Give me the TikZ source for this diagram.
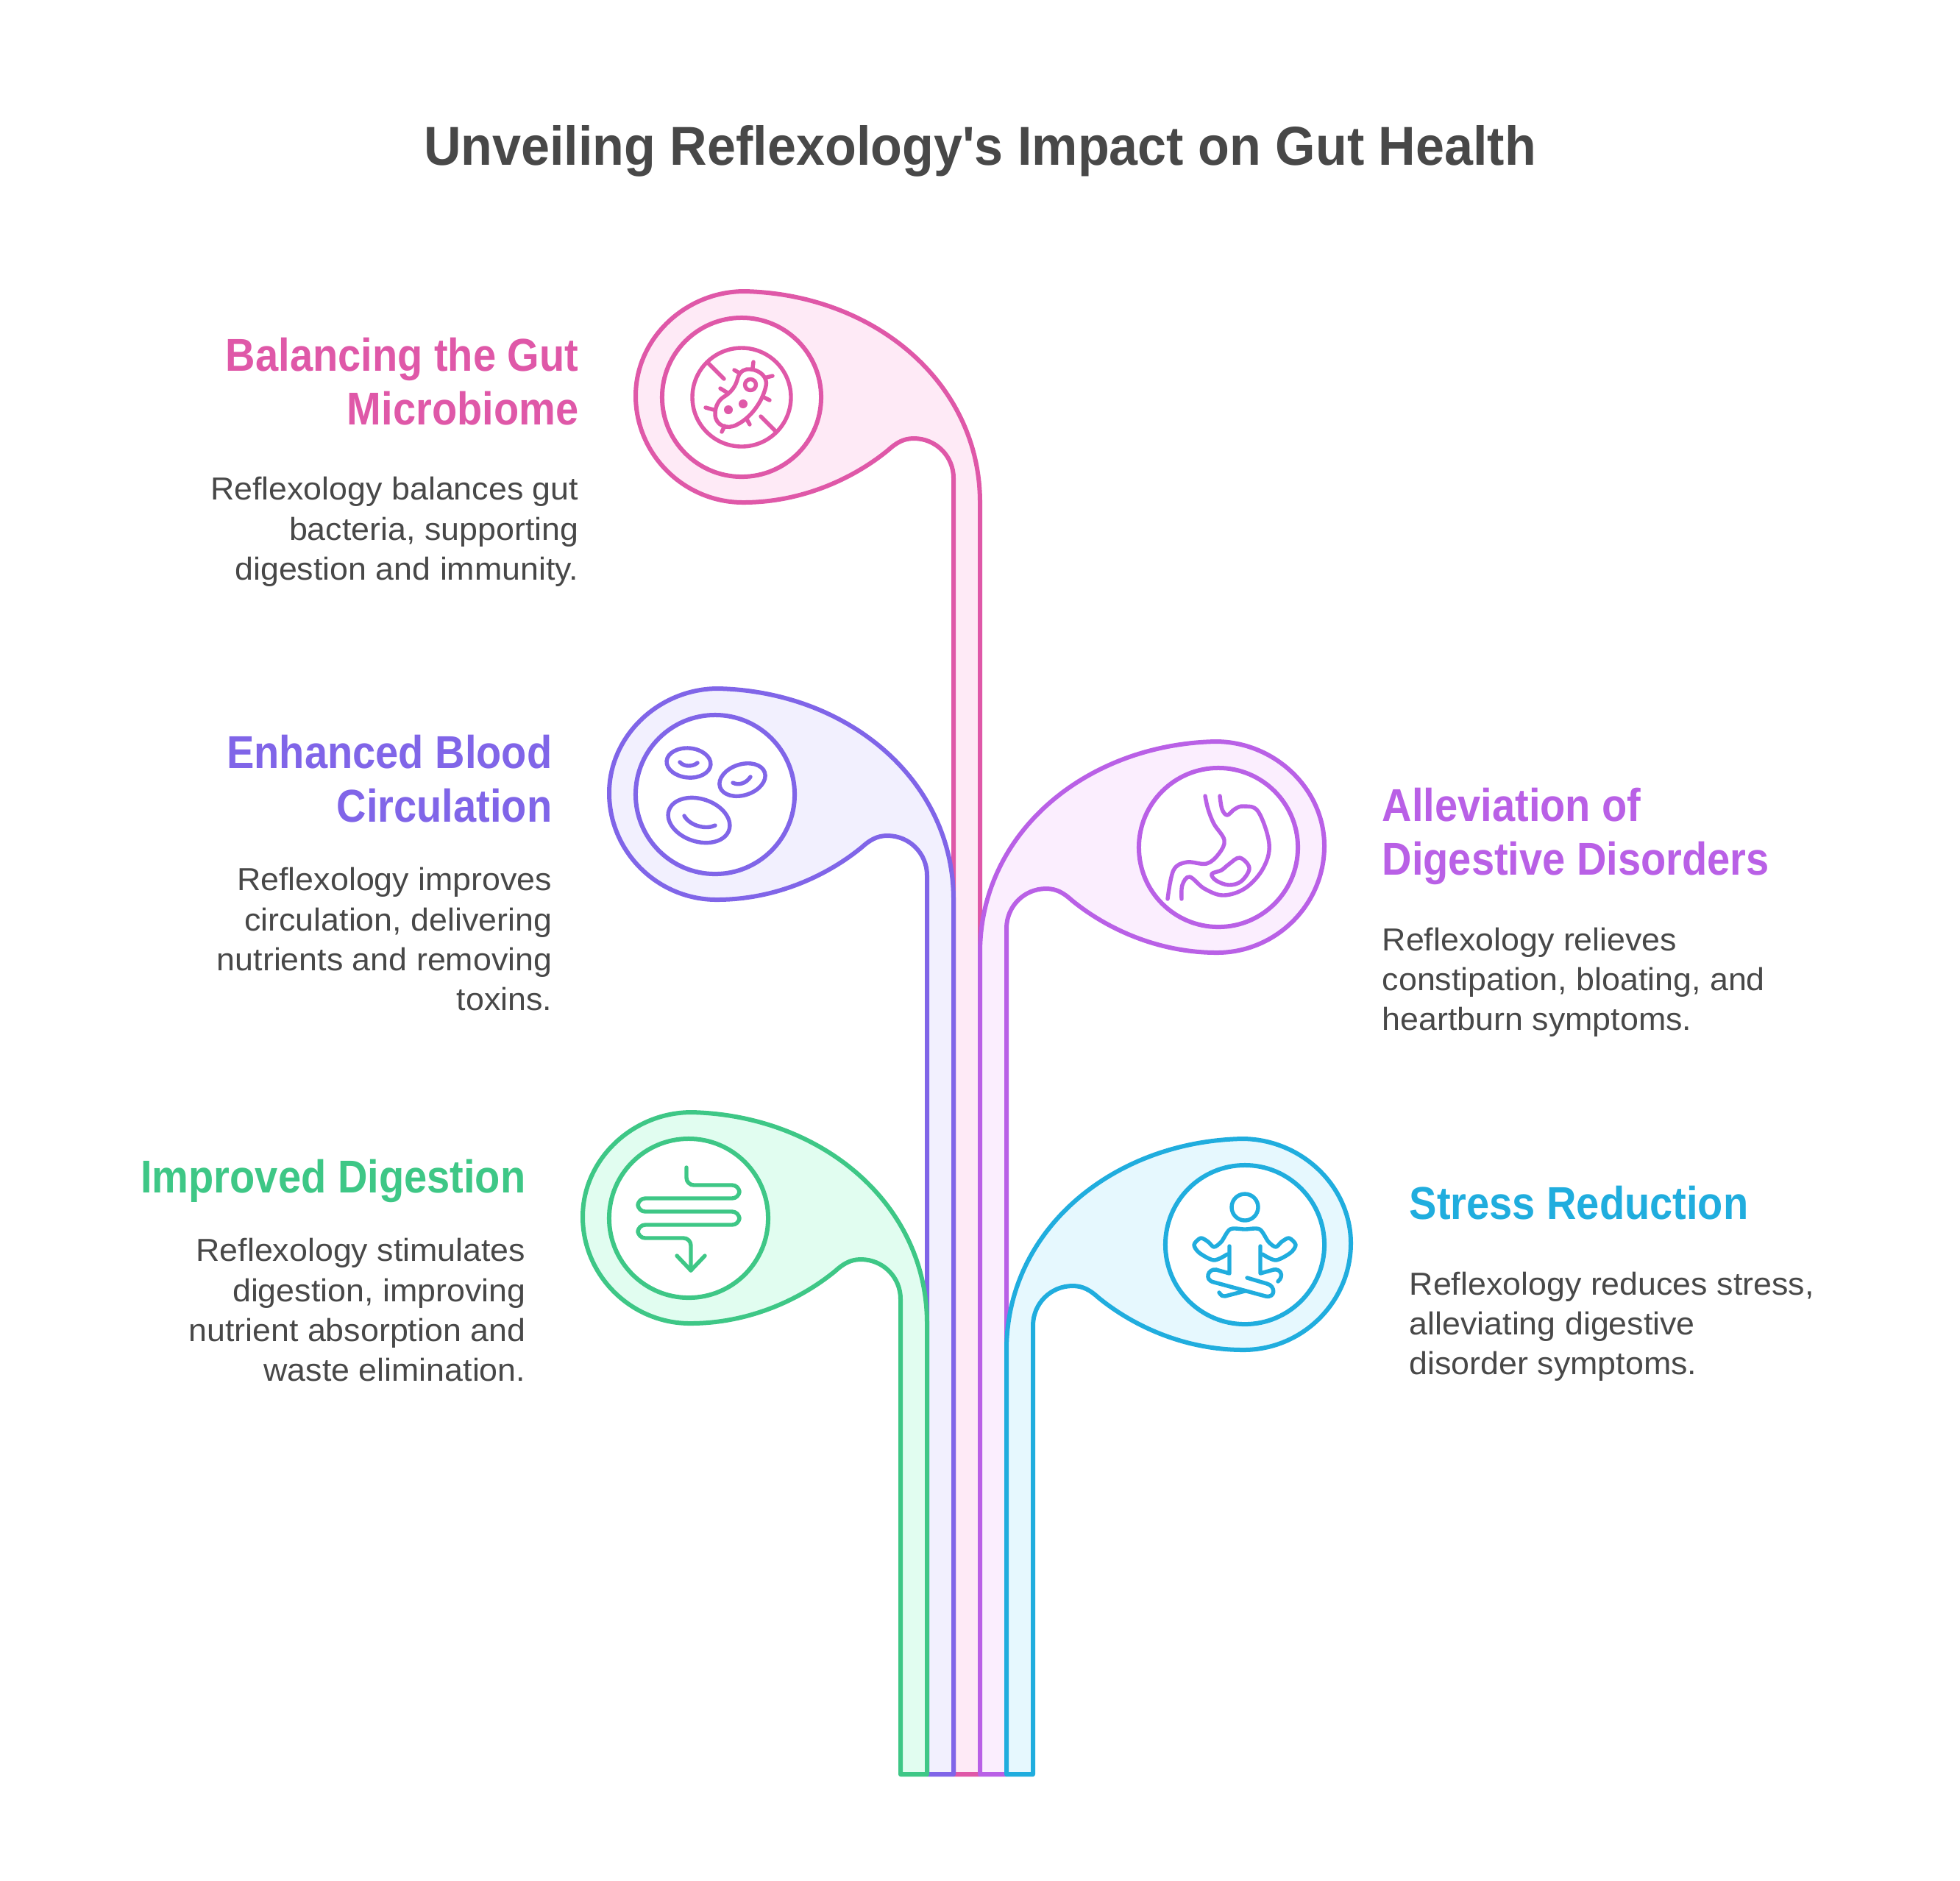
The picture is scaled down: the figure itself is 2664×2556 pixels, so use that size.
\documentclass[tikz,border=0pt]{standalone}
\usepackage{fontspec}
\setmainfont{Liberation Sans}
\newfontfamily\titlefont[FakeStretch=0.94]{Liberation Sans}
\newfontfamily\headfont[FakeStretch=0.895]{Liberation Sans}
\newfontfamily\copyfont[FakeStretch=1.035]{Liberation Sans}
\usetikzlibrary{positioning}

\definecolor{pinkline}{HTML}{DF58A8}
\definecolor{pinksoft}{HTML}{FEEAF6}
\definecolor{violetline}{HTML}{8065E8}
\definecolor{violetsoft}{HTML}{F2F0FE}
\definecolor{mauveline}{HTML}{B960E6}
\definecolor{mauvesoft}{HTML}{FBEEFE}
\definecolor{greenline}{HTML}{3EC786}
\definecolor{greensoft}{HTML}{E1FDF0}
\definecolor{blueline}{HTML}{20ADDE}
\definecolor{bluesoft}{HTML}{E6F8FE}
\definecolor{inkgrey}{HTML}{484848}

\tikzset{
	petal/.style={draw=#1line, fill=#1soft, line width=0.06cm, line join=round},
	disc/.style={circle, draw=#1line, fill=white, line width=0.06cm, minimum size=2.16cm, inner sep=0pt, outer sep=0pt},
	icon/.style={draw=#1line, line width=0.054cm, line cap=round, line join=round},
	headline/.style={text=#1line, inner sep=0pt, font=\headfont\fontsize{17.8pt}{20.5pt}\selectfont\bfseries},
	bodytext/.style={text=inkgrey, inner sep=0pt, font=\copyfont\fontsize{12.3pt}{15.36pt}\selectfont},
}

% centre x, centre y, side (1 or -1), colour
\newcommand{\drawpetal}[4]{
	\draw[petal=#4, shift={(#1,#2)}, xscale=#3] (4,-144)
		.. controls (180,-140) and (324,-20) .. (324,143) -- (324,{2412-#2}) -- (288,{2412-#2}) -- (288,110)
		.. controls (288,80) and (264,56) .. (234,56)
		.. controls (220,56) and (210,62) .. (199,72)
		.. controls (150,112) and (80,143) .. (2,143)
		.. controls (-78,143) and (-144,78) .. (-144,-2)
		.. controls (-144,-80) and (-76,-144) .. (4,-144) -- cycle;
}

\begin{document}
\begin{tikzpicture}[x=0.01cm, y=-0.01cm]
	\useasboundingbox (0,0) rectangle (2664,2556);

	\node[text=inkgrey, inner sep=0pt, anchor=base, font=\titlefont\fontsize{21.2pt}{25pt}\selectfont\bfseries] (title) at (1332,224) {Unveiling Reflexology's Impact on Gut Health};

	\drawpetal{1008}{540}{1}{pink}
	\drawpetal{1656}{1152}{-1}{mauve}
	\drawpetal{972}{1080}{1}{violet}
	\drawpetal{1692}{1692}{-1}{blue}
	\drawpetal{936}{1656}{1}{green}

	\node[disc=pink] (microbe) at (1008,540) {};
	\node[disc=violet] (cells) at (972,1080) {};
	\node[disc=mauve] (stomach) at (1656,1152) {};
	\node[disc=green] (bowel) at (936,1656) {};
	\node[disc=blue] (calm) at (1692,1692) {};

	% bacterium
	\begin{scope}[shift={(microbe.center)}]
		\draw[icon=pink] (0,0) circle (67);
		\draw[icon=pink] (-45,-46) -- (-24,-25);
		\draw[icon=pink] (26,26) -- (46,46);
		\draw[icon=pink] (-5,-27) .. controls (-2,-36) and (5,-39) .. (12,-38)
			.. controls (25,-37) and (36,-27) .. (33,-15)
			.. controls (28,7) and (12,28) .. (-6,37)
			.. controls (-20,45) and (-36,38) .. (-36,23)
			.. controls (-36,12) and (-31,4) .. (-25,0)
			.. controls (-15,-6) and (-8,-14) .. (-5,-27) -- cycle;
		\draw[icon=pink] (12,-17) circle (7.5);
		\fill[pinkline] (-18,17) circle (6);
		\fill[pinkline] (2,9) circle (6);
		\draw[icon=pink] (16,-48) -- (15,-40);
		\draw[icon=pink] (-10,-37) -- (-3,-33);
		\draw[icon=pink] (42,-29) -- (34,-27);
		\draw[icon=pink] (38,4) -- (30,0);
		\draw[icon=pink] (11,37) -- (7,30);
		\draw[icon=pink] (-27,47) -- (-23,39);
		\draw[icon=pink] (-49,14) -- (-38,17);
		\draw[icon=pink] (-29,-12) -- (-19,-6);
	\end{scope}

	% blood cells
	\begin{scope}[shift={(cells.center)}]
		\draw[icon=violet, rotate around={-5:(-36,-43)}] (-36,-43) ellipse (30 and 20);
		\draw[icon=violet, rotate around={18:(37,-20)}] (37,-20) ellipse (32 and 21);
		\draw[icon=violet, rotate around={-18:(-22,35)}] (-22,35) ellipse (43 and 29);
		\draw[icon=violet] (-48,-44) .. controls (-42,-37) and (-30,-38) .. (-24,-43);
		\draw[icon=violet] (24,-16) .. controls (32,-12) and (42,-15) .. (48,-24);
		\draw[icon=violet] (-42,29) .. controls (-34,43) and (-12,48) .. (0,42);
	\end{scope}

	% stomach
	\begin{scope}[shift={(stomach.center)}]
		\draw[icon=mauve] plot[smooth, tension=0.6] coordinates {(-18,-70) (-14,-52) (-6,-32) (8,-10) (1,8) (-16,22) (-43,20) (-61,31) (-69,70)};
		\draw[icon=mauve] plot[smooth, tension=0.6] coordinates {(2,-70) (5,-52) (12,-44) (22,-52) (34,-56) (54,-49) (69,-5) (61,28) (37,55) (7,65) (-19,56) (-39,40) (-49,51) (-50,70)};
		\draw[icon=mauve] plot[smooth cycle, tension=0.6] coordinates {(-9,36) (4,31) (14,23) (29,14) (42,28) (31,46) (14,51) (-3,45)};
	\end{scope}

	% intestine
	\begin{scope}[shift={(bowel.center)}]
		\draw[icon=green, rounded corners=0.1cm] (-3,-69) -- (-3,-45) -- (69,-45) -- (69,-27) -- (-69,-27) -- (-69,-9) -- (69,-9) -- (69,9) -- (-69,9) -- (-69,27) -- (3,27) -- (3,71);
		\draw[icon=green] (-16,51) -- (3,71) -- (22,51);
	\end{scope}

	% sitting figure
	\begin{scope}[shift={(calm.center)}]
		\draw[icon=blue] (0,-51) circle (18);
		\draw[icon=blue] plot[smooth, tension=0.5] coordinates {(-24,13) (-42,21) (-62,11) (-69,0) (-60,-9) (-50,-4) (-42,3) (-32,-4) (-20,-21) (0,-21) (20,-21) (32,-4) (42,3) (50,-4) (60,-9) (69,0) (62,11) (42,21) (24,13)};
		\draw[icon=blue] (-21,2) -- (-21,39) -- (-39,34);
		\draw[icon=blue] (21,2) -- (21,39) -- (39,34);
		\draw[icon=blue] (-39,34) .. controls (-50,32) and (-56,48) .. (-42,51) -- (28,70) .. controls (42,73) and (42,56) .. (30,53) -- (3,45);
		\draw[icon=blue] (39,34) .. controls (48,32) and (54,42) .. (45,50);
		\draw[icon=blue] (-35,65) .. controls (-32,69) and (-30,71) .. (-27,70) -- (0,63);
	\end{scope}

	% the base anchor of a block sits on its last line
	\node[headline=pink, anchor=base east, align=right] (pinkhead) at (787,577) {Balancing the Gut\\Microbiome};
	\node[bodytext, anchor=base east, align=right] (pinktext) at (787,788) {Reflexology balances gut\\bacteria, supporting\\digestion and immunity.};

	\node[headline=violet, anchor=base east, align=right] (violethead) at (751,1117) {Enhanced Blood\\Circulation};
	\node[bodytext, anchor=base east, align=right] (violettext) at (751,1373) {Reflexology improves\\circulation, delivering\\nutrients and removing\\toxins.};

	\node[headline=green, anchor=base east, align=right] (greenhead) at (715,1621) {Improved Digestion};
	\node[bodytext, anchor=base east, align=right] (greentext) at (715,1877) {Reflexology stimulates\\digestion, improving\\nutrient absorption and\\waste elimination.};

	\node[headline=mauve, anchor=base west, align=left] (mauvehead) at (1878,1189) {Alleviation of\\Digestive Disorders};
	\node[bodytext, anchor=base west, align=left] (mauvetext) at (1878,1400) {Reflexology relieves\\constipation, bloating, and\\heartburn symptoms.};

	\node[headline=blue, anchor=base west, align=left] (bluehead) at (1915,1657) {Stress Reduction};
	\node[bodytext, anchor=base west, align=left] (bluetext) at (1915,1868) {Reflexology reduces stress,\\alleviating digestive\\disorder symptoms.};
\end{tikzpicture}
\end{document}
